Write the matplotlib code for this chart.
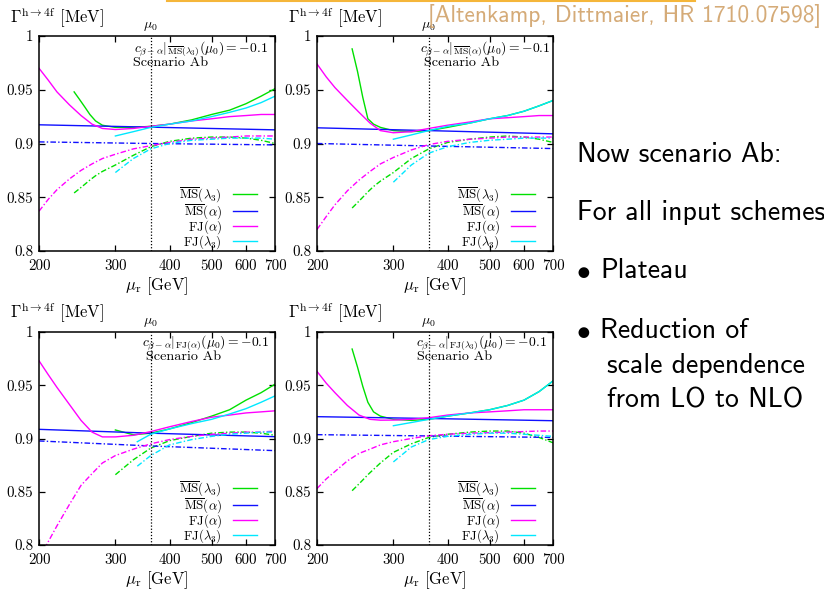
import matplotlib
matplotlib.use("Agg")
import matplotlib.pyplot as plt
from matplotlib.ticker import FixedLocator, FixedFormatter, NullLocator
from matplotlib.lines import Line2D
import matplotlib.transforms as mtransforms

plt.rcParams['font.family'] = ['cmr10', 'DejaVu Serif']
plt.rcParams['mathtext.fontset'] = 'cm'
plt.rcParams['axes.unicode_minus'] = False
plt.rcParams['axes.formatter.use_mathtext'] = True

# ---------------- data ----------------
MU0 = 362.0
X200 = [200, 210, 220, 235, 250, 265, 280, 300, 330, 362, 400, 450, 500, 550, 600, 650, 700]
X241 = [241, 248, 255, 262, 270, 280, 300, 330, 362, 400, 450, 500, 550, 600, 650, 700]
X300 = [300, 330, 362, 400, 450, 500, 550, 600, 650, 700]
X337 = [337, 362, 400, 450, 500, 550, 600, 650, 700]
XBLUE = [200, 362, 700]

x_ticks = [200, 300, 400, 500, 600, 700]
x_tick_labels = ['200', '300', '400', '500', '600', '700']
y_ticks = [0.8, 0.85, 0.9, 0.95, 1.0]
y_tick_labels = ['0.8', '0.85', '0.9', '0.95', '1']

scheme_labels = [r'$\overline{\rm MS}(\lambda_3)$', r'$\overline{\rm MS}(\alpha)$',
                 r'${\rm FJ}(\alpha)$', r'${\rm FJ}(\lambda_3)$']
scheme_colors = ['#00e000', '#1010ff', '#ff00ff', '#00e8ff']

input_labels = [r'$c_{\beta-\alpha}|_{\overline{\rm MS}(\lambda_3)}(\mu_0) = -0.1$',
                r'$c_{\beta-\alpha}|_{\overline{\rm MS}(\alpha)}(\mu_0) = -0.1$',
                r'$c_{\beta-\alpha}|_{\rm FJ(\alpha)}(\mu_0) = -0.1$',
                r'$c_{\beta-\alpha}|_{\rm FJ(\lambda_3)}(\mu_0) = -0.1$']

# Panel 1: input MS(lambda3)
p1_msl3_nlo = [0.948, 0.941, 0.934, 0.927, 0.921, 0.917, 0.915, 0.915, 0.916, 0.918, 0.922, 0.927, 0.931, 0.937, 0.944, 0.951]
p1_msa_nlo = [0.9174, 0.9152, 0.9127]
p1_fja_nlo = [0.970, 0.959, 0.948, 0.936, 0.926, 0.918, 0.914, 0.913, 0.914, 0.916, 0.918, 0.921, 0.923, 0.925, 0.926, 0.927, 0.927]
p1_fjl3_nlo = [0.907, 0.911, 0.915, 0.918, 0.921, 0.925, 0.929, 0.933, 0.938, 0.944]
p1_msl3_lo = [0.854, 0.858, 0.862, 0.866, 0.870, 0.874, 0.880, 0.889, 0.897, 0.902, 0.905, 0.906, 0.906, 0.905, 0.903, 0.900]
p1_msa_lo = [0.9015, 0.9000, 0.8987]
p1_fja_lo = [0.837, 0.848, 0.857, 0.867, 0.875, 0.881, 0.886, 0.890, 0.895, 0.898, 0.901, 0.904, 0.905, 0.906, 0.907, 0.907, 0.907]
p1_fjl3_lo = [0.873, 0.886, 0.895, 0.900, 0.903, 0.904, 0.905, 0.905, 0.905, 0.904]

# Panel 2: input MS(alpha)
p2_msl3_nlo = [0.988, 0.967, 0.943, 0.923, 0.918, 0.915, 0.912, 0.911, 0.912, 0.915, 0.919, 0.923, 0.926, 0.930, 0.935, 0.940]
p2_msa_nlo = [0.9146, 0.9120, 0.9090]
p2_fja_nlo = [0.974, 0.962, 0.952, 0.940, 0.929, 0.919, 0.912, 0.910, 0.911, 0.914, 0.917, 0.920, 0.923, 0.924, 0.925, 0.926, 0.926]
p2_fjl3_nlo = [0.904, 0.908, 0.912, 0.916, 0.919, 0.923, 0.926, 0.930, 0.935, 0.940]
p2_msl3_lo = [0.840, 0.845, 0.850, 0.855, 0.860, 0.865, 0.873, 0.886, 0.895, 0.901, 0.904, 0.906, 0.907, 0.906, 0.904, 0.901]
p2_msa_lo = [0.9000, 0.8977, 0.8953]
p2_fja_lo = [0.820, 0.832, 0.843, 0.856, 0.866, 0.874, 0.881, 0.887, 0.894, 0.899, 0.902, 0.904, 0.905, 0.906, 0.906, 0.906, 0.906]
p2_fjl3_lo = [0.864, 0.880, 0.891, 0.897, 0.901, 0.903, 0.904, 0.905, 0.905, 0.905]

# Panel 3: input FJ(alpha)
p3_msl3_nlo = [0.908, 0.9035, 0.905, 0.909, 0.915, 0.921, 0.927, 0.936, 0.943, 0.951]
p3_msa_nlo = [0.9086, 0.9050, 0.9017]
p3_fja_nlo = [0.973, 0.960, 0.948, 0.932, 0.917, 0.906, 0.9015, 0.9015, 0.903, 0.9065, 0.911, 0.916, 0.920, 0.922, 0.924, 0.925, 0.926]
p3_fjl3_nlo = [0.897, 0.904, 0.909, 0.914, 0.918, 0.923, 0.928, 0.934, 0.940]
p3_msl3_lo = [0.866, 0.880, 0.891, 0.898, 0.902, 0.905, 0.906, 0.906, 0.905, 0.903]
p3_msa_lo = [0.8977, 0.8930, 0.8886]
p3_fja_lo = [0.787, 0.803, 0.818, 0.838, 0.856, 0.867, 0.877, 0.884, 0.890, 0.895, 0.899, 0.902, 0.904, 0.905, 0.906, 0.906, 0.907]
p3_fjl3_lo = [0.874, 0.884, 0.894, 0.899, 0.902, 0.904, 0.905, 0.906, 0.906]

# Panel 4: input FJ(lambda3)
p4_msl3_nlo = [0.984, 0.967, 0.949, 0.934, 0.925, 0.921, 0.918, 0.917, 0.918, 0.921, 0.924, 0.927, 0.931, 0.936, 0.944, 0.954]
p4_msa_nlo = [0.9205, 0.9188, 0.9167]
p4_fja_nlo = [0.963, 0.952, 0.943, 0.931, 0.922, 0.918, 0.9172, 0.9173, 0.918, 0.9195, 0.922, 0.924, 0.925, 0.926, 0.927, 0.927, 0.927]
p4_fjl3_nlo = [0.912, 0.915, 0.918, 0.921, 0.924, 0.927, 0.931, 0.936, 0.944, 0.954]
p4_msl3_lo = [0.851, 0.856, 0.861, 0.866, 0.871, 0.877, 0.887, 0.895, 0.901, 0.904, 0.906, 0.907, 0.907, 0.905, 0.901, 0.896]
p4_msa_lo = [0.9036, 0.9024, 0.9010]
p4_fja_lo = [0.853, 0.862, 0.869, 0.879, 0.886, 0.890, 0.894, 0.897, 0.900, 0.9026, 0.904, 0.905, 0.9055, 0.906, 0.9065, 0.907, 0.907]
p4_fjl3_lo = [0.878, 0.892, 0.899, 0.902, 0.904, 0.905, 0.905, 0.904, 0.903, 0.902]

panels = [
    dict(x=[X241, XBLUE, X200, X300],
         nlo=[p1_msl3_nlo, p1_msa_nlo, p1_fja_nlo, p1_fjl3_nlo],
         lo=[p1_msl3_lo, p1_msa_lo, p1_fja_lo, p1_fjl3_lo]),
    dict(x=[X241, XBLUE, X200, X300],
         nlo=[p2_msl3_nlo, p2_msa_nlo, p2_fja_nlo, p2_fjl3_nlo],
         lo=[p2_msl3_lo, p2_msa_lo, p2_fja_lo, p2_fjl3_lo]),
    dict(x=[X300, XBLUE, X200, X337],
         nlo=[p3_msl3_nlo, p3_msa_nlo, p3_fja_nlo, p3_fjl3_nlo],
         lo=[p3_msl3_lo, p3_msa_lo, p3_fja_lo, p3_fjl3_lo]),
    dict(x=[X241, XBLUE, X200, X300],
         nlo=[p4_msl3_nlo, p4_msa_nlo, p4_fja_nlo, p4_fjl3_nlo],
         lo=[p4_msl3_lo, p4_msa_lo, p4_fja_lo, p4_fjl3_lo]),
]

# ---------------- layout ----------------
W, H = 824, 591
fig = plt.figure(figsize=(W / 100, H / 100), dpi=100)
fig.patch.set_facecolor('white')

boxes = [(39, 36, 275, 251), (317, 36, 553, 251), (39, 332, 275, 545), (317, 332, 553, 545)]
text_pos = [((0.970, 0.942), (0.40, 0.876)),
            ((0.990, 0.942), (0.453, 0.876)),
            ((0.975, 0.950), (0.452, 0.882)),
            ((0.973, 0.950), (0.423, 0.882))]

LO_DASH = (0, (4.0, 1.6, 1.0, 1.6))

for i, (pan, (l, t, r, b)) in enumerate(zip(panels, boxes)):
    ax = fig.add_axes([l / W, 1 - b / H, (r - l) / W, (b - t) / H])
    ax.set_xscale('log')
    handles = []
    for xs, yn, yl, col, lab in zip(pan['x'], pan['nlo'], pan['lo'], scheme_colors, scheme_labels):
        h, = ax.plot(xs, yn, color=col, lw=1.0, label=lab)
        ax.plot(xs, yl, color=col, lw=1.0, linestyle=LO_DASH)
        handles.append(h)
    ax.axvline(MU0, color='black', lw=0.9, linestyle=(0, (1, 1.5)))
    ax.set_xlim(200, 700)
    ax.set_ylim(0.8, 1.0)
    ax.xaxis.set_major_locator(FixedLocator(x_ticks))
    ax.xaxis.set_major_formatter(FixedFormatter(x_tick_labels))
    ax.xaxis.set_minor_locator(NullLocator())
    ax.yaxis.set_major_locator(FixedLocator(y_ticks))
    ax.yaxis.set_major_formatter(FixedFormatter(y_tick_labels))
    ax.yaxis.set_minor_locator(NullLocator())
    ax.tick_params(direction='in', top=True, right=True, length=4.5, width=0.9,
                   labelsize=10.8, colors='black')
    ax.tick_params(axis='x', pad=6)
    ax.tick_params(axis='y', pad=4)
    for sp in ax.spines.values():
        sp.set_linewidth(1.1)
    leg = ax.legend(handles=handles, loc='lower right', bbox_to_anchor=(0.925, 0.0),
                    frameon=False, markerfirst=False, fontsize=9.3, handlelength=1.85,
                    handletextpad=0.9, labelspacing=-0.2, borderpad=0.0, borderaxespad=0.0)
    (cx, cy), (sx, sy) = text_pos[i]
    ax.text(cx, cy, input_labels[i], transform=ax.transAxes, ha='right', va='center', fontsize=9.8)
    ax.text(sx, sy, 'Scenario Ab', transform=ax.transAxes, ha='left', va='center', fontsize=10.2)
    trans = mtransforms.blended_transform_factory(ax.transData, ax.transAxes)
    ax.text(MU0, 1.012, r'$\mu_0$', transform=trans, ha='center', va='bottom', fontsize=10)
    ax.set_xlabel(r'$\mu_{\rm r}$ [GeV]', fontsize=12, labelpad=1.5)
    yb = 23 if i < 2 else 318
    fig.text((l - 29) / W, 1 - yb / H, r'$\Gamma^{\rm h\to 4f}$ [MeV]', fontsize=12,
             ha='left', va='baseline')

# ---------------- slide decorations ----------------
fig.add_artist(Line2D([167 / W, 695 / W], [1 - 1 / H, 1 - 1 / H], color='#f5b63a', lw=1.5))
fig.text(428 / W, 1 - 22 / H, '[Altenkamp, Dittmaier, HR 1710.07598]', family='cmss10',
         fontsize=16.9, color='#d5ab78', ha='left', va='baseline')

SANS = 'cmss10'
FS = 20
fig.text(577 / W, 1 - 162 / H, 'Now scenario Ab:', family=SANS, fontsize=FS, ha='left', va='baseline')
fig.text(577 / W, 1 - 220 / H, 'For all input schemes', family=SANS, fontsize=FS, ha='left', va='baseline')
fig.text(576 / W, 1 - 278 / H, r'$\bullet$', fontsize=FS, ha='left', va='baseline')
fig.text(600 / W, 1 - 278 / H, 'Plateau', family=SANS, fontsize=FS, ha='left', va='baseline')
fig.text(576 / W, 1 - 338 / H, r'$\bullet$', fontsize=FS, ha='left', va='baseline')
fig.text(600 / W, 1 - 338 / H, 'Reduction of', family=SANS, fontsize=FS, ha='left', va='baseline')
fig.text(607 / W, 1 - 373 / H, 'scale dependence', family=SANS, fontsize=FS, ha='left', va='baseline')
fig.text(607 / W, 1 - 407 / H, 'from LO to NLO', family=SANS, fontsize=FS, ha='left', va='baseline')

fig.savefig('out.png', dpi=100, facecolor='white')
